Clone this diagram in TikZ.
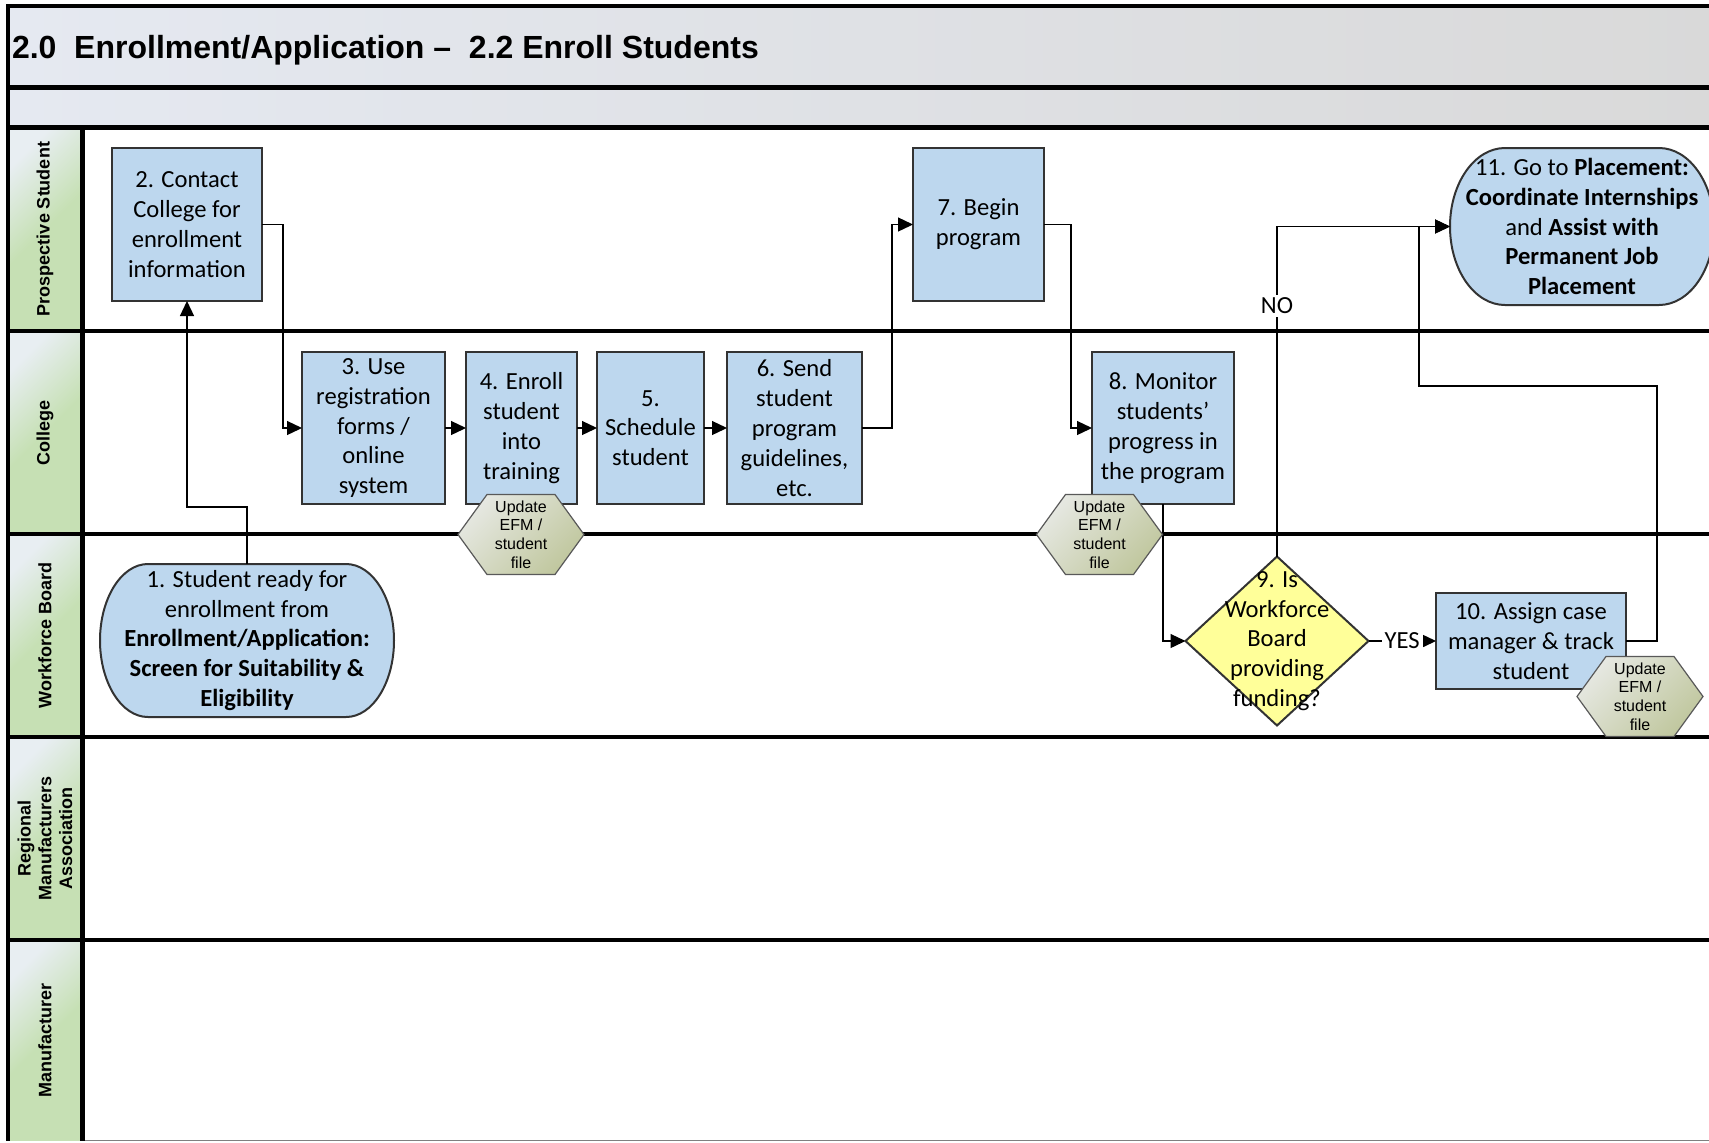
\documentclass[tikz,border=0pt]{standalone}
\usepackage{fontspec}
\setmainfont{Carlito}
\newfontfamily\arialfont{Liberation Sans}
\usetikzlibrary{arrows.meta,calc,shapes.geometric}

\definecolor{boxblue}{HTML}{BDD7EE}
\definecolor{boxedge}{HTML}{333333}
\definecolor{laneA}{HTML}{E8EEF2}
\definecolor{laneB}{HTML}{C6E0B4}
\definecolor{hexA}{HTML}{E6E8E2}
\definecolor{hexB}{HTML}{C0C79E}
\definecolor{bandA}{HTML}{E5E9F1}
\definecolor{bandB}{HTML}{D9D9D9}
\definecolor{decision}{HTML}{FFFF99}

\pgfdeclarelayer{lanes}
\pgfdeclarelayer{shapes}
\pgfsetlayers{lanes,shapes,main}

% hexagonal "Update EFM / student file" outline around a named node
\newcommand\hexoutline[1]{%
  \path[hexshape] (#1.west) -- ($(#1.north west)+(29,0)$) -- ($(#1.north east)+(-29,0)$)
    -- (#1.east) -- ($(#1.south east)+(-29,0)$) -- ($(#1.south west)+(29,0)$) -- cycle;}

\begin{document}
\begin{tikzpicture}[x=0.5pt,y=-0.5pt,
  every node/.style={outer sep=0pt},
  boxfont/.style={font=\fontsize{12.3}{14.9}\selectfont},
  stepbox/.style={draw=boxedge, line width=1pt, fill=boxblue, align=center, inner sep=0pt, boxfont},
  termtext/.style={align=center, inner sep=0pt, boxfont},
  stadshape/.style={draw=boxedge, line width=1pt, fill=boxblue},
  hexframe/.style={inner sep=0pt, minimum width=63pt, minimum height=40pt},
  hextext/.style={align=center, inner sep=0pt, font=\arialfont\fontsize{8}{9.4}\selectfont},
  hexshape/.style={draw=black!65, line width=0.6pt, top color=hexA, bottom color=hexB, shading angle=45},
  lanelabel/.style={rotate=90, align=center, inner sep=0pt,
                    font=\arialfont\bfseries\fontsize{9}{10.4}\selectfont},
  conn/.style={draw=black, line width=0.65pt, -{Triangle[length=7.5pt,width=7pt]}},
  lbl/.style={fill=white, inner sep=1.5pt, boxfont},
  sepline/.style={line width=2.2pt, draw=black},
]
\useasboundingbox (0,0) rectangle (1709,1142);

% ---- pool frame, header bands and swimlanes
\begin{pgfonlayer}{lanes}
  \fill[white] (0,0) rectangle (1709,1142);
  \shade[left color=bandA, right color=bandB] (8,6) rectangle (1720,87.5);
  \shade[left color=bandA, right color=bandB] (8,87.5) rectangle (1720,127.5);
  \foreach \t/\b in {127.5/331, 331/534, 534/737, 737/940, 940/1140}
    \path[top color=laneA, bottom color=laneB, middle color=laneB, shading angle=45]
      (8,\t) rectangle (82.5,\b);
  \draw[gray, line width=0.8pt] (82.5,1140.5) -- (1720,1140.5);
  \draw[line width=2pt] (6,6) -- (1720,6);
  \draw[sepline] (6,87.5) -- (1720,87.5);
  \draw[sepline] (6,127.5) -- (1720,127.5);
  \foreach \y in {331,534,737,940}
    \draw[sepline] (8,\y) -- (1720,\y);
  \draw[line width=2pt] (8,5) -- (8,1141);
  \draw[sepline] (82.5,127.5) -- (82.5,1141);
\end{pgfonlayer}

% ---- title and lane names
\node[anchor=west, inner sep=0pt, font=\arialfont\bfseries\fontsize{16}{19}\selectfont] (title)
  at (12,50) {2.0\ \ Enrollment/Application –\ \ 2.2 Enroll Students};

\node[lanelabel] (laneStudent) at (45,229) {Prospective Student};
\node[lanelabel] (laneCollege) at (45,432.5) {College};
\node[lanelabel] (laneBoard) at (45,635.5) {Workforce Board};
\node[lanelabel] (laneRMA) at (45,838.5) {Regional\\Manufacturers\\Association};
\node[lanelabel] (laneMfr) at (45,1040) {Manufacturer};

% ---- process steps
\node[stepbox, minimum width=75pt, minimum height=76.5pt] (b2) at (187,224.5)
  {2. Contact\\College for\\enrollment\\information};
\node[stepbox, minimum width=71.5pt, minimum height=76pt] (b3) at (373.5,428)
  {3. Use\\registration\\forms /\\online\\system};
\node[stepbox, minimum width=55.5pt, minimum height=76pt] (b4) at (521.5,428)
  {4. Enroll\\student\\into\\training};
\node[stepbox, minimum width=53.5pt, minimum height=76pt] (b5) at (650.5,428)
  {5.\\Schedule\\student};
\node[stepbox, minimum width=67.5pt, minimum height=76pt] (b6) at (794.5,428)
  {6. Send\\student\\program\\guidelines,\\etc.};
\node[stepbox, minimum width=65.5pt, minimum height=76.5pt] (b7) at (978.5,224.5)
  {7. Begin\\program};
\node[stepbox, minimum width=71pt, minimum height=76pt] (b8) at (1163,428)
  {8. Monitor\\students’\\progress in\\the program};
\node[stepbox, minimum width=95pt, minimum height=48pt] (b10) at (1531,641)
  {10. Assign case\\manager \& track\\student};

% ---- decision
\node[shape=diamond, draw=boxedge, line width=1pt, fill=decision, inner sep=0pt,
      minimum width=91.5pt, minimum height=84.5pt] (d9) at (1277,641) {};
\node[termtext] (d9text) at (d9) {9. Is\\Workforce\\Board\\providing\\funding?};

% ---- start and end terminals
\node[termtext, minimum width=147pt, minimum height=76.5pt] (s1) at (247,640.5)
  {1. Student ready for\\enrollment from\\\textbf{Enrollment/Application:}\\\textbf{Screen for Suitability \&}\\\textbf{Eligibility}};
\node[termtext, minimum width=132pt, minimum height=78.5pt] (s11) at (1582,226.5)
  {11. Go to \textbf{Placement:}\\\textbf{Coordinate Internships}\\and \textbf{Assist with}\\\textbf{Permanent Job}\\\textbf{Placement}};

\begin{pgfonlayer}{shapes}
  \path[stadshape] ($(s1.north west)+(48,0)$) -- ($(s1.north east)+(-48,0)$)
    arc[start angle=90, end angle=-90, x radius=24pt, y radius=38.25pt]
    -- ($(s1.south west)+(48,0)$)
    arc[start angle=270, end angle=90, x radius=24pt, y radius=38.25pt] -- cycle;
  \path[stadshape] ($(s11.north west)+(55,0)$) -- ($(s11.north east)+(-55,0)$)
    arc[start angle=90, end angle=-90, x radius=27.5pt, y radius=39.25pt]
    -- ($(s11.south west)+(55,0)$)
    arc[start angle=270, end angle=90, x radius=27.5pt, y radius=39.25pt] -- cycle;
\end{pgfonlayer}

% ---- flow
\draw[conn] (s1.north) -- ++(0,-57) -| (b2.south);
\draw[conn] (b2.east) -- ++(21,0) |- (b3.west);
\draw[conn] (b3.east) -- (b4.west);
\draw[conn] (b4.east) -- (b5.west);
\draw[conn] (b5.east) -- (b6.west);
\draw[conn] (b6.east) -- ++(30,0) |- (b7.west);
\draw[conn] (b7.east) -- ++(27,0) |- (b8.west);
\draw[conn] (b8.south) |- (d9.west);
\draw[conn] (d9.north) |- node[lbl, pos=0.38] (noLabel) {NO} (s11.west);
\draw[conn] (d9.east) -- node[lbl] (yesLabel) {YES} (b10.west);
\draw[conn] (b10.east) -- ++(31,0) -- ++(0,-255) -- ++(-238,0) |- (s11.west);

% ---- record updates, lying over the step boxes
\node[hexframe] (h1) at (521,534.5) {};
\node[hexframe] (h2) at (1099.5,534.5) {};
\node[hexframe] (h3) at (1640,696.5) {};
\hexoutline{h1}
\hexoutline{h2}
\hexoutline{h3}
\node[hextext] (h1text) at (h1) {Update\\EFM /\\student\\file};
\node[hextext] (h2text) at (h2) {Update\\EFM /\\student\\file};
\node[hextext] (h3text) at (h3) {Update\\EFM /\\student\\file};
\end{tikzpicture}
\end{document}
